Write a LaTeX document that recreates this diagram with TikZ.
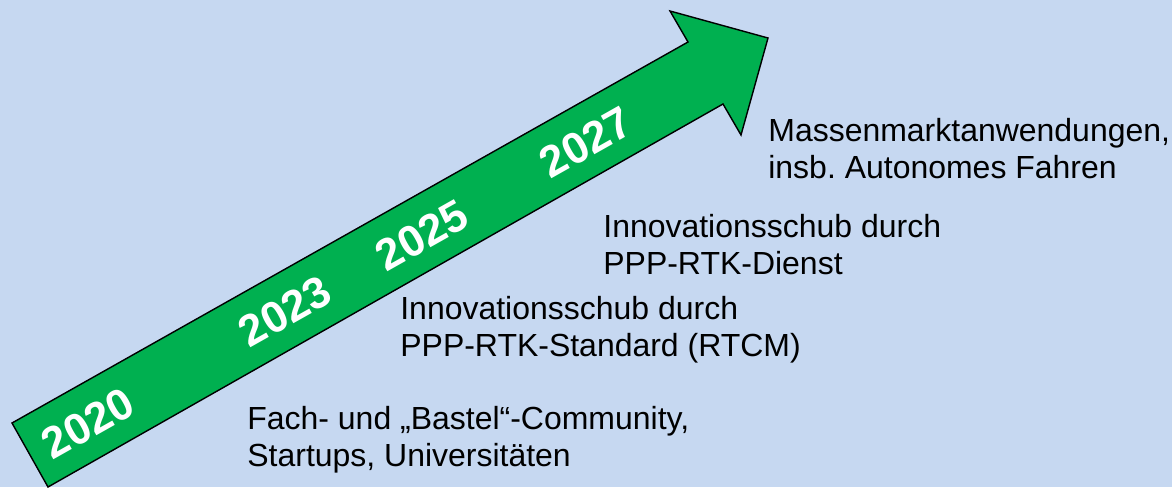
\documentclass[tikz,border=0pt]{standalone}
\usepackage{fontspec}
\setmainfont{Liberation Sans}
\definecolor{bgblue}{HTML}{C6D8F1}
\definecolor{arrgreen}{HTML}{00B050}
\frenchspacing

\begin{document}
\begin{tikzpicture}[x=0.02cm,y=-0.02cm,
  year/.style={text=white,font=\fontsize{25}{30}\selectfont\bfseries,rotate=29.4,inner sep=0pt},
  note/.style={anchor=base west,align=left,inner sep=0pt,font=\fontsize{18.2}{20.5}\selectfont}]
  \fill[bgblue] (0,0) rectangle (1172,487);
  \useasboundingbox (0,0) rectangle (1172,487);
  % the big green arrow
  \filldraw[fill=arrgreen,draw=black,line width=0.8pt]
    (12,423) -- (688,42) -- (670,11) -- (768,38) -- (741,135) -- (723,104) -- (48,487) -- cycle;
  % years along the arrow
  \node[year] (y2020) at (88,423) {2020};
  \node[year] (y2023) at (285,311) {2023};
  \node[year] (y2025) at (422,235) {2025};
  \node[year] (y2027) at (586,142) {2027};
  % phases (base = last line)
  \node[note] (mass) at (768,178) {Massenmarktanwendungen,\\insb. Autonomes Fahren};
  \node[note] (dienst) at (603,274) {Innovationsschub durch\\PPP-RTK-Dienst};
  \node[note] (standard) at (400,356) {Innovationsschub durch\\PPP-RTK-Standard (RTCM)};
  \node[note] (comm) at (247,466) {Fach- und „Bastel“-Community,\\Startups, Universitäten};
\end{tikzpicture}
\end{document}
